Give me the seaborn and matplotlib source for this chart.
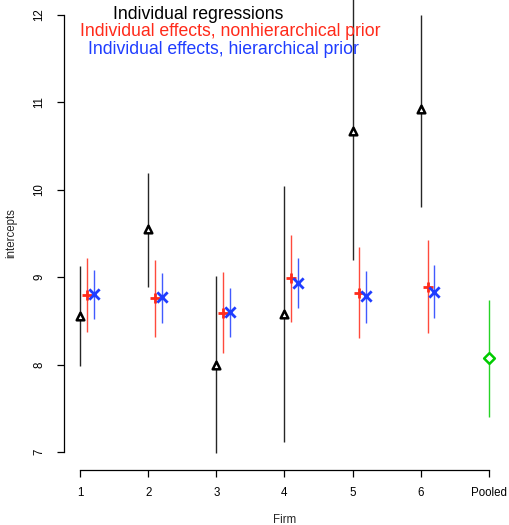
import matplotlib
matplotlib.use("Agg")
import matplotlib.pyplot as plt
import seaborn as sns
import numpy as np
import pandas as pd

sns.set_style("white")
plt.rcParams["font.family"] = ["Liberation Sans", "DejaVu Sans"]

# firm positions and labels
firms = [1, 2, 3, 4, 5, 6]
tick_labels = ["1", "2", "3", "4", "5", "6", "Pooled"]

# individual regressions (black)
ols_est = [8.56, 9.55, 8.00, 8.58, 10.67, 10.92]
ols_lo = [7.98, 8.89, 6.99, 7.11, 9.20, 9.80]
ols_hi = [9.13, 10.19, 9.01, 10.04, 12.60, 12.00]

# nonhierarchical prior (red)
nh_est = [8.80, 8.76, 8.59, 8.99, 8.82, 8.89]
nh_lo = [8.37, 8.32, 8.13, 8.49, 8.30, 8.36]
nh_hi = [9.22, 9.20, 9.06, 9.48, 9.35, 9.43]

# hierarchical prior (blue)
h_est = [8.81, 8.77, 8.60, 8.93, 8.78, 8.83]
h_lo = [8.52, 8.48, 8.32, 8.65, 8.48, 8.53]
h_hi = [9.08, 9.05, 8.88, 9.22, 9.07, 9.14]

# pooled (green)
pool_est = 8.08
pool_lo = 7.40
pool_hi = 8.74

RED = "#FF2A1A"
BLUE = "#1F3DFF"
GREEN = "#00CC00"

fig = plt.figure(figsize=(5.09, 5.25), dpi=100)
ax = fig.add_axes([63.6 / 509, (525 - 469.5) / 525, (505.4 - 63.6) / 509, 472 / 525])

x = np.array(firms, dtype=float)
groups = [
    (x, ols_est, ols_lo, ols_hi, "black", "^"),
    (x + 0.1, nh_est, nh_lo, nh_hi, RED, "+"),
    (x + 0.2, h_est, h_lo, h_hi, BLUE, "x"),
    (np.array([7.0]), [pool_est], [pool_lo], [pool_hi], GREEN, "D"),
]

for xs, est, lo, hi, col, mk in groups:
    ax.vlines(xs, lo, hi, color=col, lw=1.0, alpha=0.85)
    df = pd.DataFrame({"x": xs, "y": est})
    if mk in ("+", "x"):
        sns.scatterplot(data=df, x="x", y="y", ax=ax, marker=mk, s=55,
                        color=col, linewidth=2.0, zorder=3)
    else:
        sns.scatterplot(data=df, x="x", y="y", ax=ax, marker=mk, s=30,
                        facecolor="white", edgecolor=col, linewidth=1.8, zorder=3)

ax.set_xlim(0.76, 7.24)
ax.set_ylim(6.8, 12.2)

sns.despine(ax=ax, top=True, right=True)
ax.spines["left"].set_bounds(7, 12)
ax.spines["bottom"].set_bounds(1, 7)
for sp in ("left", "bottom"):
    ax.spines[sp].set_linewidth(0.9)
    ax.spines[sp].set_color("black")

ax.set_xticks(range(1, 8))
ax.set_xticklabels(tick_labels)
ax.set_yticks(range(7, 13))
ax.set_yticklabels([str(v) for v in range(7, 13)], rotation=90, va="center")
ax.tick_params(axis="both", direction="out", length=5, width=0.9,
               labelsize=8.3, pad=8, colors="black", bottom=True, left=True)
ax.tick_params(axis="x", pad=7.5)

ax.set_xlabel("Firm", fontsize=8.3, labelpad=11)
ax.set_ylabel("intercepts", fontsize=8.3, labelpad=12)

ax.text(2.73, 12.01, "Individual regressions", color="black", fontsize=12.7,
        ha="center", va="center")
ax.text(3.20, 11.81, "Individual effects, nonhierarchical prior", color=RED,
        fontsize=12.7, ha="center", va="center")
ax.text(3.10, 11.61, "Individual effects, hierarchical prior", color=BLUE,
        fontsize=12.7, ha="center", va="center")

fig.savefig("out.png", dpi=100)
